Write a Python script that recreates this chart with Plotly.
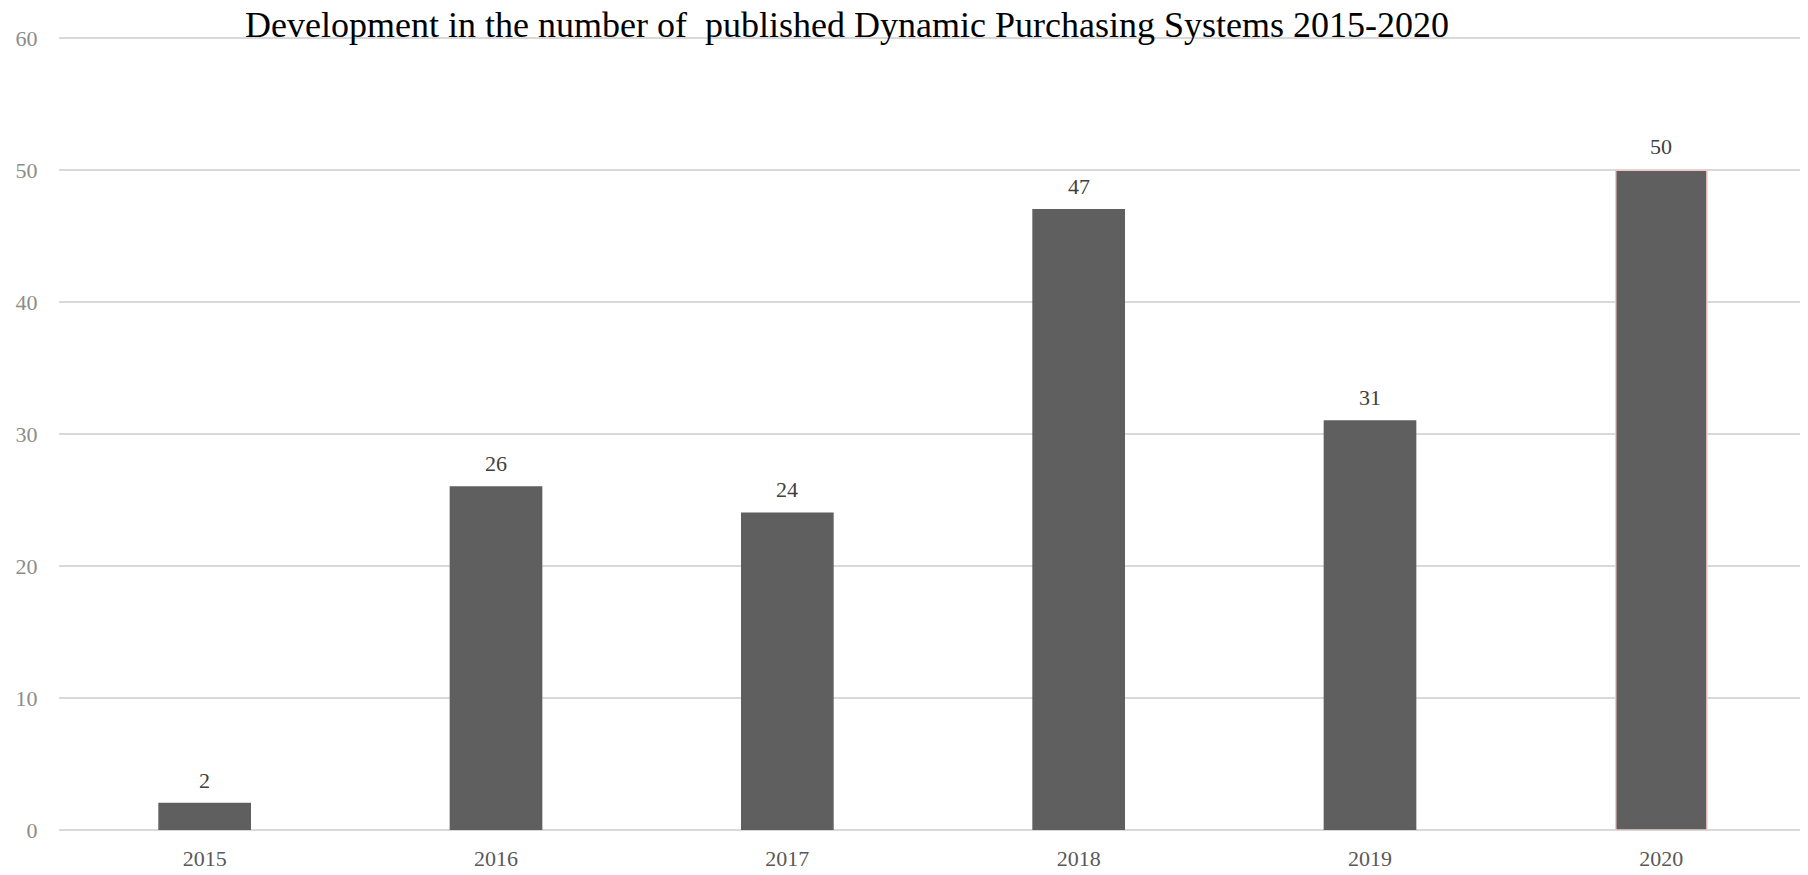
import plotly.graph_objects as go

years = ["2015", "2016", "2017", "2018", "2019", "2020"]
counts = [2, 26, 24, 47, 31, 50]
title_text = "Development in the number of&nbsp; published Dynamic Purchasing Systems 2015-2020"
y_ticks = [0, 10, 20, 30, 40, 50, 60]

FONT = "Liberation Serif"
line_colors = ["#5f5f5f"] * 5 + ["#f4c7c7"]

fig = go.Figure()
fig.add_trace(go.Bar(
    x=years, y=counts,
    marker=dict(color="#5f5f5f", line=dict(color=line_colors, width=1.5)),
    hoverinfo="x+y",
))

for i, v in enumerate(counts):
    fig.add_annotation(x=i, y=v, text=str(v), showarrow=False,
                       yanchor="bottom", yshift=9,
                       font=dict(family=FONT, size=22, color="#404040"))

fig.update_layout(
    width=1800, height=867,
    margin=dict(l=51, r=1, t=29, b=45),
    paper_bgcolor="white", plot_bgcolor="white",
    bargap=0.687,
    showlegend=False,
    title=dict(text=title_text, x=839/1800, xanchor="center",
               y=1 - 16/867, yanchor="middle", yref="container",
               font=dict(family=FONT, size=36, color="#000000")),
    xaxis=dict(type="category", range=[-0.5, len(years) - 0.5],
               showgrid=False, showline=False, zeroline=False,
               ticks="outside", ticklen=9, tickcolor="rgba(0,0,0,0)",
               tickfont=dict(family=FONT, size=22, color="#595959")),
    yaxis=dict(range=[0, 60.1], tickvals=y_ticks, showgrid=True,
               gridcolor="#d9d9d9", gridwidth=1.5,
               zeroline=True, zerolinecolor="#d9d9d9", zerolinewidth=1.5,
               showline=False, ticks="outside", ticklen=16,
               tickcolor="rgba(0,0,0,0)",
               tickfont=dict(family=FONT, size=22, color="#8c8c8c")),
)

fig.write_html("out.html")
